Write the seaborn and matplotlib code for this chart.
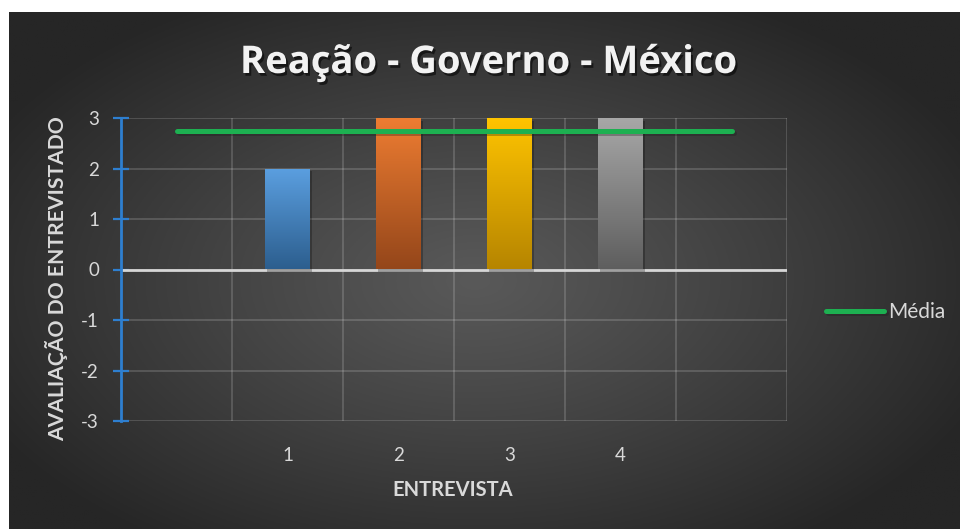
import numpy as np
import pandas as pd
import matplotlib
matplotlib.use("Agg")
import matplotlib.pyplot as plt
import matplotlib.patheffects as pe
from matplotlib.colors import LinearSegmentedColormap, to_rgb
import seaborn as sns

# Survey scores per interview
categories = ["1", "2", "3", "4"]
scores = [2, 3, 3, 3]
# category slots on the axis (blank slots at both ends)
slots = [" ", "1", "2", "3", "4", "  "]
y_ticks = [-3, -2, -1, 0, 1, 2, 3]

bar_top = ["#5B9FE0", "#EE7D32", "#FFC400", "#A8A8A8"]
bar_bottom = ["#2C5E8E", "#94461A", "#B68500", "#5E5E5E"]

title = "Reação - Governo - México"
x_label = "ENTREVISTA"
y_label = "AVALIAÇÃO DO ENTREVISTADO"
legend_label = "Média"

sns.set_theme(style="white")
plt.rcParams["font.family"] = ["Lato", "DejaVu Sans"]
plt.rcParams["axes.unicode_minus"] = False

W, H = 960, 529
fig = plt.figure(figsize=(W / 100, H / 100), dpi=100)
fig.patch.set_facecolor("white")

# dark radial-gradient panel
bg = fig.add_axes([9 / W, 0, (W - 9) / W, (H - 12) / H])
bg.set_axis_off()
nx, ny = 480, 260
xx, yy = np.meshgrid(np.linspace(0, 1, nx), np.linspace(0, 1, ny))
d = np.sqrt(((xx - 0.49) / 0.58) ** 2 + ((yy - 0.52) / 0.62) ** 2)
d = np.clip(d, 0, 1) ** 1.1
c_in = np.array(to_rgb("#595959"))
c_out = np.array(to_rgb("#262626"))
img = c_in[None, None, :] * (1 - d[..., None]) + c_out[None, None, :] * d[..., None]
bg.imshow(img, extent=[0, 1, 0, 1], aspect="auto", origin="upper")
bg.set_xlim(0, 1)
bg.set_ylim(0, 1)

# plotting area
left, right, top, bottom = 121, 787, 118, 421
ax = fig.add_axes([left / W, 1 - bottom / H, (right - left) / W, (bottom - top) / H])
ax.set_facecolor("none")

df = pd.DataFrame({"Entrevista": categories, "Avaliação": scores})
sns.barplot(data=df, x="Entrevista", y="Avaliação", order=slots,
            hue="Entrevista", hue_order=categories, palette=bar_top,
            width=0.4, dodge=False, legend=False, ax=ax, zorder=3)

# vertical gradient fill inside each bar
grad = np.linspace(0, 1, 256).reshape(-1, 1)
for p in list(ax.patches):
    h = p.get_height()
    if not np.isfinite(h) or h == 0:
        continue
    x0, w, y0 = p.get_x(), p.get_width(), p.get_y()
    idx = int(round(x0 + w / 2)) - 1
    cmap = LinearSegmentedColormap.from_list("bar", [bar_top[idx], bar_bottom[idx]])
    p.set_path_effects([pe.SimplePatchShadow(offset=(1.5, -2), shadow_rgbFace="black", alpha=0.25)])
    p.set_edgecolor("none")
    im = ax.imshow(grad, extent=[x0, x0 + w, y0, y0 + h], origin="upper",
                   aspect="auto", cmap=cmap, zorder=4)
    im.set_clip_path(p)

# mean line
mean_score = float(np.mean(scores))
mean_line, = ax.plot(np.arange(len(slots)), [mean_score] * len(slots),
                     color="#1DB051", lw=3.6, solid_capstyle="round", zorder=5,
                     label=legend_label,
                     path_effects=[pe.SimpleLineShadow(offset=(1.5, -1.5), alpha=0.3), pe.Normal()])

ax.set_xlim(-0.5, len(slots) - 0.5)
ax.set_ylim(min(y_ticks), max(y_ticks))

# grid
ax.set_yticks(y_ticks)
ax.set_xticks(range(len(slots)))
ax.set_xticklabels(slots)
ax.set_xticks(np.arange(-0.5, len(slots), 1), minor=True)
ax.grid(False)
ax.grid(which="major", axis="y", color="white", alpha=0.2, lw=1.1, zorder=1)
ax.grid(which="minor", axis="x", color="white", alpha=0.2, lw=1.1, zorder=1)
ax.set_axisbelow(True)
ax.axhline(0, color="#D6D6D6", lw=2, zorder=2)

for s in ["top", "right", "bottom"]:
    ax.spines[s].set_visible(False)
ax.spines["left"].set_color("#2E7FD0")
ax.spines["left"].set_linewidth(2)
ax.spines["left"].set_zorder(6)

ax.tick_params(axis="y", direction="inout", length=11.5, width=1.6, color="#2E7FD0",
               labelcolor="#D9D9D9", labelsize=13.5, pad=10, left=True)
ax.tick_params(axis="x", which="both", length=0, labelcolor="#D9D9D9", labelsize=13.5, pad=19)
ax.set_xlabel("")
ax.set_ylabel("")

fig.text(57 / W, 1 - 279 / H, y_label, rotation=90, ha="center", va="center",
         fontsize=15.2, fontweight="bold", color="#D9D9D9")
fig.text(453 / W, 1 - 490 / H, x_label, ha="center", va="center",
         fontsize=14.5, fontweight="bold", color="#D9D9D9")
fig.text(489 / W, 1 - 63 / H, title, ha="center", va="center",
         fontsize=27.5, fontweight="bold", color="#F2F2F2", family=["Open Sans", "DejaVu Sans"],
         path_effects=[pe.withSimplePatchShadow(offset=(1.5, -2), shadow_rgbFace="black", alpha=0.55)])

ax.legend(handles=[mean_line], loc="center left", bbox_to_anchor=(826 / W, 1 - 312 / H),
          bbox_transform=fig.transFigure, frameon=False, handlelength=2.8, handletextpad=0.2,
          borderpad=0, borderaxespad=0, fontsize=15, labelcolor="#D9D9D9")

fig.savefig("out.png", dpi=100, facecolor=fig.get_facecolor())
